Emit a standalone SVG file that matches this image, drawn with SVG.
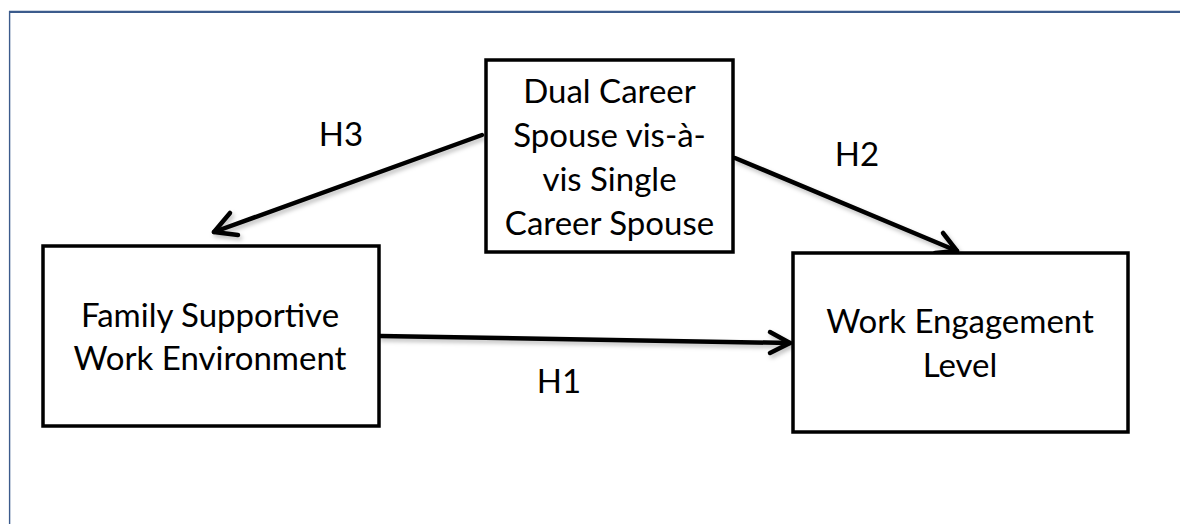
<svg xmlns="http://www.w3.org/2000/svg" width="1180" height="524" viewBox="0 0 1180 524">
  <style>
    .box { fill: #ffffff; stroke: #000000; stroke-width: 3.5; }
    .lbl { font-family: Lato, "Liberation Sans", sans-serif; font-size: 33px; fill: #000000; text-anchor: middle; }
    .conn { fill: none; stroke: #000000; stroke-width: 4.5; stroke-linecap: round; stroke-linejoin: round; }
    .frame { stroke: #3b5b8c; fill: none; }
  </style>
  <defs>
    <filter id="sh" x="-10%" y="-10%" width="120%" height="140%">
      <feDropShadow dx="2" dy="3" stdDeviation="2" flood-color="#000000" flood-opacity="0.25"/>
    </filter>
  </defs>
  <rect width="1180" height="524" fill="#ffffff"/>
  <g id="frame">
    <line class="frame" x1="9" y1="11.8" x2="1180" y2="11.8" stroke-width="2.2"/>
    <line class="frame" x1="9.6" y1="11" x2="9.6" y2="524" stroke-width="1.4"/>
  </g>
  <g id="connectors">
    <g filter="url(#sh)">
      <path class="conn" d="M482,135 L214,232"/>
      <path class="conn" d="M230,213 L214,232 L238,235"/>
      <path class="conn" d="M735,158 L957,251"/>
      <path class="conn" d="M943,233 L957,251 L935,253"/>
      <path class="conn" d="M380,336 L790,343"/>
      <path class="conn" d="M770,332 L790,343 L770,353"/>
    </g>
    <text class="lbl" x="341" y="146">H3</text>
    <text class="lbl" x="857" y="166">H2</text>
    <text class="lbl" x="559" y="393">H1</text>
  </g>
  <g id="dual-career">
    <rect class="box" x="486" y="60" width="247" height="192"/>
    <text class="lbl" x="609.5" y="103">Dual Career</text>
    <text class="lbl" x="609.5" y="147">Spouse vis-à-</text>
    <text class="lbl" x="609.5" y="191">vis Single</text>
    <text class="lbl" x="609.5" y="235">Career Spouse</text>
  </g>
  <g id="family-supportive">
    <rect class="box" x="43" y="246" width="336" height="180"/>
    <text class="lbl" x="210" y="327">Family Supportive</text>
    <text class="lbl" x="210" y="370">Work Environment</text>
  </g>
  <g id="work-engagement">
    <rect class="box" x="793" y="253" width="335" height="179"/>
    <text class="lbl" x="960" y="333">Work Engagement</text>
    <text class="lbl" x="960" y="377">Level</text>
  </g>
</svg>
